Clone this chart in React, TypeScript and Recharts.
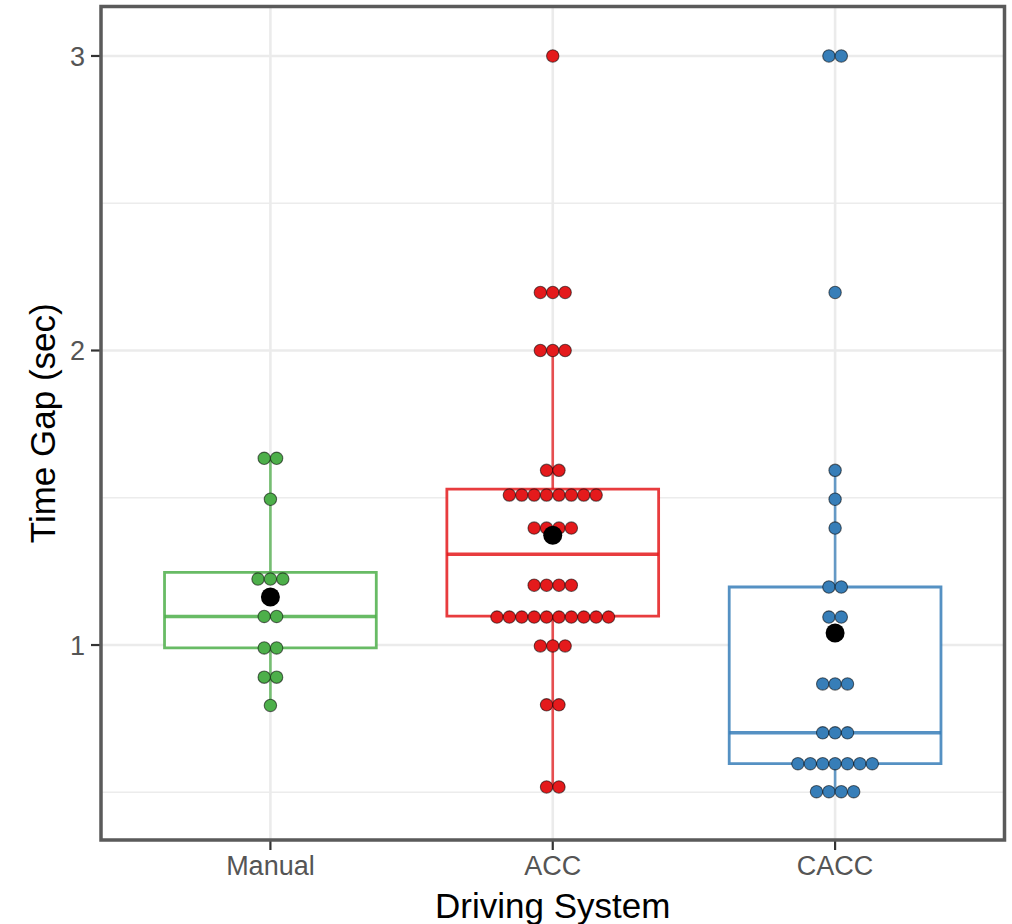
import React from 'react';
import { ScatterChart, Scatter, XAxis, YAxis, ReferenceLine, ReferenceArea, Label } from 'recharts';

// ---- Data ----
const categories = ['Manual', 'ACC', 'CACC'];
const categoryPositions = [1, 2, 3];
const groupColors = ['#4DAF4A', '#E41A1C', '#377EB8'];

// individual observations (dot plot), time gap in seconds
const manualValues = [1.634, 1.634, 1.495, 1.224, 1.224, 1.224, 1.097, 1.097, 0.99, 0.99, 0.891, 0.891, 0.795];
const accValues = [
  3.0,
  2.197, 2.197, 2.197,
  2.0, 2.0, 2.0,
  1.593, 1.593,
  1.509, 1.509, 1.509, 1.509, 1.509, 1.509, 1.509, 1.509,
  1.397, 1.397, 1.397, 1.397,
  1.203, 1.203, 1.203, 1.203,
  1.095, 1.095, 1.095, 1.095, 1.095, 1.095, 1.095, 1.095, 1.095, 1.095,
  0.997, 0.997, 0.997,
  0.797, 0.797,
  0.518, 0.518,
];
const caccValues = [
  3.0, 3.0,
  2.197,
  1.593,
  1.495,
  1.397,
  1.197, 1.197,
  1.095, 1.095,
  0.868, 0.868, 0.868,
  0.702, 0.702, 0.702,
  0.597, 0.597, 0.597, 0.597, 0.597, 0.597, 0.597,
  0.502, 0.502, 0.502, 0.502,
];

// box plot statistics
const boxMin = [0.795, 0.518, 0.502];
const boxQ1 = [0.99, 1.098, 0.597];
const boxMedian = [1.097, 1.308, 0.702];
const boxQ3 = [1.247, 1.529, 1.197];
const boxMax = [1.634, 2.0, 1.593];
const meanValues = [1.163, 1.373, 1.041];

const yTicks = [1, 2, 3];
const yMinorGrid = [0.5, 1.5, 2.5];
const xDomain: [number, number] = [0.4, 3.6];
const yDomain: [number, number] = [0.338, 3.168];

// ---- Styling ----
const FONT = '"Liberation Sans", Arial, Helvetica, sans-serif';
const BOX_HALF = 0.375;
const DOT_STEP = 12.4;
const DOT_R = 6.2;

const groupValues = [manualValues, accValues, caccValues];

function stackDots(values: number[], pos: number) {
  const counts = new Map<number, number>();
  values.forEach((v) => counts.set(v, (counts.get(v) || 0) + 1));
  const out: { x: number; y: number; slot: number }[] = [];
  counts.forEach((n, v) => {
    for (let i = 0; i < n; i++) out.push({ x: pos, y: v, slot: i - (n - 1) / 2 });
  });
  return out;
}

const makeDotShape = (color: string) => (props: any) => {
  const { cx, cy, payload } = props;
  if (cx == null || cy == null) return <g />;
  return (
    <circle
      cx={cx + payload.slot * DOT_STEP}
      cy={cy}
      r={DOT_R}
      fill={color}
      stroke="#000"
      strokeOpacity={0.55}
      strokeWidth={1.1}
    />
  );
};

const meanShape = (props: any) => {
  const { cx, cy } = props;
  if (cx == null || cy == null) return <g />;
  return <circle cx={cx} cy={cy} r={9.5} fill="#000" />;
};

const meanData = categoryPositions.map((p, i) => ({ x: p, y: meanValues[i] }));

export default function App() {
  return (
    <div style={{ position: 'absolute', left: 0, top: 0, background: '#fff' }}>
      <ScatterChart width={1012} height={924} margin={{ top: 6.5, right: 7.5, left: 0, bottom: 0 }}>
        <XAxis
          type="number"
          dataKey="x"
          domain={xDomain}
          allowDataOverflow
          ticks={categoryPositions}
          tickFormatter={(v: number) => categories[Math.round(v) - 1]}
          height={84}
          axisLine={false}
          tickSize={10}
          tickMargin={6}
          tickLine={{ stroke: '#333', strokeWidth: 2.2 }}
          tick={{ fill: '#555555', fontSize: 27, fontFamily: FONT }}
          interval={0}
        >
          <Label
            content={(p: any) => {
              const vb = p.viewBox || {};
              return (
                <text
                  x={vb.x + vb.width / 2}
                  y={vb.y + 78}
                  textAnchor="middle"
                  fill="#000"
                  fontSize={35}
                  fontFamily={FONT}
                >
                  Driving System
                </text>
              );
            }}
          />
        </XAxis>
        <YAxis
          type="number"
          dataKey="y"
          domain={yDomain}
          allowDataOverflow
          ticks={yTicks}
          width={101}
          axisLine={false}
          tickSize={10}
          tickMargin={6}
          tickLine={{ stroke: '#333', strokeWidth: 2.2 }}
          tick={{ fill: '#555555', fontSize: 27, fontFamily: FONT }}
          interval={0}
        >
          <Label
            content={(p: any) => {
              const vb = p.viewBox || {};
              const cx = 55;
              const cy = vb.y + vb.height / 2;
              return (
                <text
                  x={cx}
                  y={cy}
                  transform={`rotate(-90, ${cx}, ${cy})`}
                  textAnchor="middle"
                  fill="#000"
                  fontSize={35}
                  fontFamily={FONT}
                >
                  Time Gap (sec)
                </text>
              );
            }}
          />
        </YAxis>

        {/* grid lines */}
        {yMinorGrid.map((v) => (
          <ReferenceLine key={`ymin-${v}`} y={v} stroke="#ececec" strokeWidth={1.4} zIndex={1} />
        ))}
        {yTicks.map((v) => (
          <ReferenceLine key={`ymaj-${v}`} y={v} stroke="#ebebeb" strokeWidth={2.6} zIndex={1} />
        ))}
        {categoryPositions.map((v) => (
          <ReferenceLine key={`xmaj-${v}`} x={v} stroke="#ebebeb" strokeWidth={2.6} zIndex={1} />
        ))}

        {/* whiskers */}
        {categoryPositions.map((p, i) => (
          <ReferenceLine
            key={`wup-${i}`}
            segment={[{ x: p, y: boxQ3[i] }, { x: p, y: boxMax[i] }]}
            stroke={groupColors[i]}
            strokeOpacity={0.75}
            strokeWidth={2.6}
            zIndex={2}
          />
        ))}
        {categoryPositions.map((p, i) => (
          <ReferenceLine
            key={`wlo-${i}`}
            segment={[{ x: p, y: boxQ1[i] }, { x: p, y: boxMin[i] }]}
            stroke={groupColors[i]}
            strokeOpacity={0.75}
            strokeWidth={2.6}
            zIndex={2}
          />
        ))}

        {/* boxes */}
        {categoryPositions.map((p, i) => (
          <ReferenceArea
            key={`box-${i}`}
            x1={p - BOX_HALF}
            x2={p + BOX_HALF}
            y1={boxQ1[i]}
            y2={boxQ3[i]}
            fill="#ffffff"
            fillOpacity={1}
            stroke={groupColors[i]}
            strokeOpacity={0.85}
            strokeWidth={2.8}
            zIndex={3}
          />
        ))}
        {categoryPositions.map((p, i) => (
          <ReferenceLine
            key={`med-${i}`}
            segment={[{ x: p - BOX_HALF, y: boxMedian[i] }, { x: p + BOX_HALF, y: boxMedian[i] }]}
            stroke={groupColors[i]}
            strokeOpacity={0.85}
            strokeWidth={3.6}
            zIndex={4}
          />
        ))}

        {/* dots */}
        {categoryPositions.map((p, i) => (
          <Scatter
            key={`dots-${i}`}
            name={categories[i]}
            data={stackDots(groupValues[i], p)}
            shape={makeDotShape(groupColors[i])}
            isAnimationActive={false}
            zIndex={600}
          />
        ))}

        {/* means */}
        <Scatter name="mean" data={meanData} shape={meanShape} isAnimationActive={false} zIndex={700} />

        {/* panel border */}
        <ReferenceArea
          x1={xDomain[0]}
          x2={xDomain[1]}
          y1={yDomain[0]}
          y2={yDomain[1]}
          fill="none"
          fillOpacity={0}
          stroke="#5a5a5a"
          strokeWidth={3.5}
          zIndex={800}
        />
      </ScatterChart>
    </div>
  );
}
